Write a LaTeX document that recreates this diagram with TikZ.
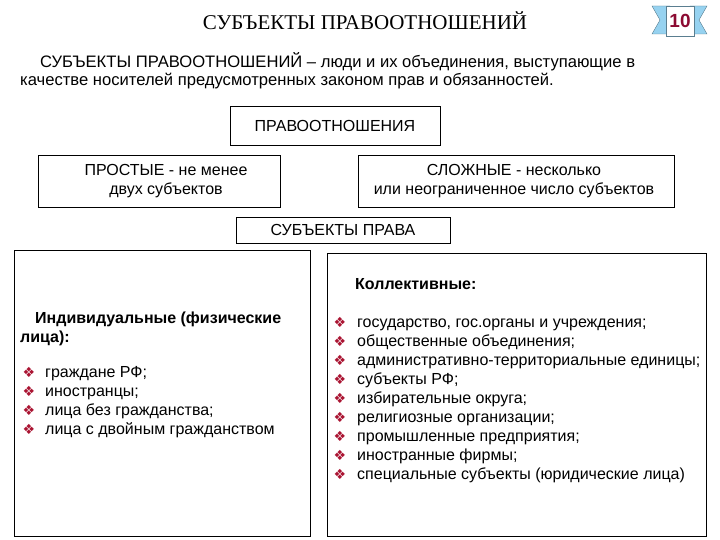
\documentclass[tikz,border=0pt]{standalone}
\usepackage{fontspec}
\setmainfont{Liberation Sans}
\newfontfamily\serifru{Liberation Serif}
\newfontfamily\dv{DejaVu Sans}
\definecolor{bul}{RGB}{170,20,50}
\definecolor{rib}{RGB}{150,210,240}
\definecolor{num}{RGB}{140,10,50}
\begin{document}
\begin{tikzpicture}[x=1pt,y=-1pt,
  box/.style={draw,line width=0.8pt},
  txt/.style={font=\fontsize{16}{19}\selectfont,inner sep=0pt},
  ltxt/.style={font=\fontsize{16}{19}\selectfont,inner sep=0pt,anchor=base west},
  btxt/.style={font=\fontsize{16}{19}\selectfont\bfseries,inner sep=0pt,anchor=base west},
  bull/.style={font=\dv\fontsize{14}{14}\selectfont,text=bul,inner sep=0pt,anchor=base}]
\useasboundingbox (0,0) rectangle (720,540);
\node[font=\serifru\fontsize{21}{23}\selectfont] (title) at (365,21) {СУБЪЕКТЫ ПРАВООТНОШЕНИЙ};
% badge
\fill[rib,draw=rib!60!black,line width=0.4pt] (652,6) -- (670,6) -- (670,34) -- (652,34) -- (660,20) -- cycle;
\fill[rib,draw=rib!60!black,line width=0.4pt] (707,6) -- (690,6) -- (690,34) -- (707,34) -- (699,20) -- cycle;
\node[draw=rib!60!black,fill=white,minimum width=26pt,minimum height=30pt,font=\fontsize{19}{19}\selectfont\bfseries,text=num] (badge) at (680,21) {10};
\node[ltxt,font=\fontsize{16.6}{19}\selectfont] (d1) at (40,68) {СУБЪЕКТЫ ПРАВООТНОШЕНИЙ – люди и их объединения, выступающие в};
\node[ltxt,font=\fontsize{16.6}{19}\selectfont] (d2) at (20,86) {качестве носителей предусмотренных законом прав и обязанностей.};
\node[box,minimum width=210pt,minimum height=39pt,txt] (pr) at (335,126) {ПРАВООТНОШЕНИЯ};
\draw[box] (38,155) rectangle (280,207);
\node[txt,align=center] (pro) at (166,181) {ПРОСТЫЕ - не менее\\двух субъектов};
\draw[box] (358,155) rectangle (674,207);
\node[txt,align=center] (slo) at (514,181) {СЛОЖНЫЕ - несколько\\или неограниченное число субъектов};
\node[box,minimum width=214pt,minimum height=26pt,txt] (sp) at (343,230) {СУБЪЕКТЫ ПРАВА};
\draw[box] (14,250) rectangle (310,536);
\draw[box] (327,253) rectangle (706,536);
\node[btxt] (ind1) at (35,323) {Индивидуальные (физические};
\node[btxt] (ind2) at (20,342) {лица):};
\node[btxt] (kol) at (355,289) {Коллективные:};
\foreach \t [count=\i] in {граждане РФ;,иностранцы;,лица без гражданства;,лица с двойным гражданством}{
  \node[bull] (lb\i) at (29,{377+19*(\i-1)}) {❖};
  \node[ltxt] (lt\i) at (45,{377+19*(\i-1)}) {\t};
}
\foreach \t [count=\i] in {государство{,} гос.органы и учреждения;,общественные объединения;,административно-территориальные единицы;,субъекты РФ;,избирательные округа;,религиозные организации;,промышленные предприятия;,иностранные фирмы;,специальные субъекты (юридические лица)}{
  \node[bull] (rb\i) at (340,{327+19*(\i-1)}) {❖};
  \node[ltxt] (rt\i) at (357,{327+19*(\i-1)}) {\t};
}
\end{tikzpicture}
\end{document}
